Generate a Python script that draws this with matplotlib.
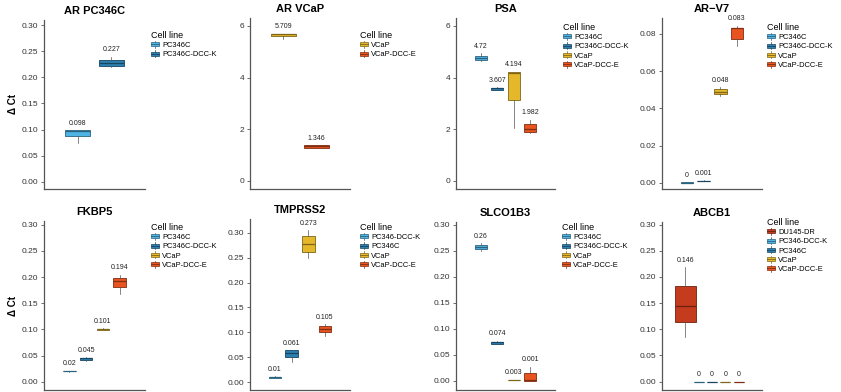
import matplotlib
matplotlib.use('Agg')
matplotlib.rcParams.update({
	"font.family": ["Liberation Sans", "DejaVu Sans"],
	"font.size": 6.0,
	"axes.linewidth": 0.9,
})
from matplotlib import pyplot as plt
from matplotlib.legend_handler import HandlerBase
from matplotlib.lines import Line2D
from matplotlib.patches import Patch, Rectangle
import numpy

# --- data: (whisker low, q1, median, q3, whisker high) ---
ar_pc346c_lines = ["PC346C", "PC346C-DCC-K"]
ar_pc346c_box = [(0.075, 0.087, 0.097, 0.099, 0.099),
                 (0.219, 0.222, 0.228, 0.234, 0.240)]
ar_pc346c_text = ["0.098", "0.227"]

ar_vcap_lines = ["VCaP", "VCaP-DCC-E"]
ar_vcap_box = [(5.48, 5.59, 5.69, 5.70, 5.70),
               (1.26, 1.29, 1.34, 1.39, 1.39)]
ar_vcap_text = ["5.709", "1.346"]

psa_lines = ["PC346C", "PC346C-DCC-K", "VCaP", "VCaP-DCC-E"]
psa_box = [(4.64, 4.66, 4.74, 4.83, 4.93),
           (3.50, 3.52, 3.58, 3.61, 3.62),
           (2.06, 3.13, 4.19, 4.22, 4.22),
           (1.84, 1.88, 2.02, 2.20, 2.36)]
psa_text = ["4.72", "3.607", "4.194", "1.982"]

arv7_lines = ["PC346C", "PC346C-DCC-K", "VCaP", "VCaP-DCC-E"]
arv7_box = [(0.0, 0.0, 0.0, 0.0002, 0.0002),
            (0.0008, 0.0009, 0.0010, 0.0011, 0.0012),
            (0.0468, 0.0475, 0.0488, 0.0502, 0.0513),
            (0.0734, 0.0775, 0.0830, 0.0834, 0.0845)]
arv7_text = ["0", "0.001", "0.048", "0.083"]

fkbp5_lines = ["PC346C", "PC346C-DCC-K", "VCaP", "VCaP-DCC-E"]
fkbp5_box = [(0.019, 0.0195, 0.020, 0.0205, 0.021),
             (0.039, 0.0414, 0.045, 0.0459, 0.047),
             (0.099, 0.0995, 0.101, 0.1015, 0.102),
             (0.167, 0.180, 0.193, 0.1975, 0.204)]
fkbp5_text = ["0.02", "0.045", "0.101", "0.194"]

tmprss2_lines = ["PC346-DCC-K", "PC346C", "VCaP", "VCaP-DCC-E"]
tmprss2_box = [(0.009, 0.0095, 0.0105, 0.011, 0.012),
               (0.041, 0.051, 0.058, 0.064, 0.064),
               (0.2485, 0.261, 0.2766, 0.294, 0.305),
               (0.0935, 0.1015, 0.1075, 0.1122, 0.116)]
tmprss2_text = ["0.01", "0.061", "0.273", "0.105"]

slco1b3_lines = ["PC346C", "PC346C-DCC-K", "VCaP", "VCaP-DCC-E"]
slco1b3_box = [(0.250, 0.2534, 0.257, 0.261, 0.264),
               (0.071, 0.0717, 0.074, 0.0755, 0.077),
               (0.0015, 0.0018, 0.002, 0.0022, 0.0025),
               (0.0, 0.0, 0.001, 0.016, 0.0275)]
slco1b3_text = ["0.26", "0.074", "0.003", "0.001"]

abcb1_lines = ["DU145-DR", "PC346-DCC-K", "PC346C", "VCaP", "VCaP-DCC-E"]
abcb1_box = [(0.0854, 0.1146, 0.1452, 0.1828, 0.2185),
             (0.0, 0.0, 0.0, 0.0, 0.0),
             (0.0, 0.0, 0.0, 0.0, 0.0),
             (0.0, 0.0, 0.0, 0.0, 0.0),
             (0.0, 0.0, 0.0, 0.0, 0.0)]
abcb1_text = ["0.146", "0", "0", "0", "0"]

LIGHT = "#4fb3e3"
DARK = "#2c7fae"
GOLD = "#e5b72b"
ORANGE = "#e9531f"
RED = "#c43b1d"

W, H = 841., 392.
fig = plt.figure(figsize=(W / 100., H / 100.), dpi=100)


def darker(c, f=0.55):
	rgb = numpy.array(matplotlib.colors.to_rgb(c))
	return tuple(rgb * f)


class BoxKey(HandlerBase):
	def create_artists(self, legend, orig, xd, yd, w, h, fontsize, trans):
		fc = orig.get_facecolor()
		ec = orig.get_edgecolor()
		cx = xd + w / 2.
		whisk = Line2D([cx, cx], [yd - 0.15 * h, yd + 1.15 * h], color=ec, lw=0.5, transform=trans)
		rect = Rectangle((xd, yd + 0.15 * h), w, 0.7 * h, facecolor=fc, edgecolor=ec, lw=0.5, transform=trans)
		med = Line2D([xd, xd + w], [yd + h / 2.] * 2, color=ec, lw=0.6, transform=trans)
		return [whisk, rect, med]


def panel(rect, title, lines, boxes, texts, colors, ylim, yticks, fmt, leg_xy, ylabel=False, widen=None):
	l, t, r, b = rect
	ax = fig.add_axes([l / W, 1 - b / H, (r - l) / W, (b - t) / H])
	n = len(lines)
	step = 0.8 / n
	pos = [1 + (i - (n - 1) / 2.) * step for i in range(n)]
	wid = [0.75 * step] * n
	if widen is not None:
		wid[widen] = 1.55 * step
	stats = []
	for name, (lo, q1, md, q3, hi) in zip(lines, boxes):
		stats.append(dict(label=name, whislo=lo, q1=q1, med=md, q3=q3, whishi=hi, fliers=[]))
	art = ax.bxp(stats, positions=pos, widths=wid, patch_artist=True, showcaps=False,
	             manage_ticks=False)
	for i, c in enumerate(colors):
		ec = darker(c)
		art['boxes'][i].set(facecolor=c, edgecolor=ec, linewidth=0.6)
		art['medians'][i].set(color=ec, linewidth=0.9)
		art['whiskers'][2 * i].set(color='#555555', linewidth=0.5)
		art['whiskers'][2 * i + 1].set(color='#555555', linewidth=0.5)
	for p, s, txt in zip(pos, boxes, texts):
		ax.annotate(txt, (p, s[4]), xytext=(0, 2.5), textcoords='offset points',
		            ha='center', va='bottom', fontsize=5, color='#222222')
	ax.set_xlim(0.4, 1.6)
	ax.set_ylim(*ylim)
	ax.set_yticks(yticks)
	ax.set_yticklabels([fmt % v for v in yticks])
	ax.set_xticks([])
	for s in ('top', 'right'):
		ax.spines[s].set_visible(False)
	for s in ('left', 'bottom'):
		ax.spines[s].set_color('#555555')
	ax.tick_params(axis='y', length=2.5, width=0.6, color='#555555', labelsize=6,
	               labelcolor='#333333', pad=1.5)
	ax.set_title(title, fontsize=8, fontweight='bold', pad=4)
	if ylabel:
		ax.set_ylabel('\u0394 Ct', fontsize=7, fontweight='bold', labelpad=3)
	handles = [Patch(facecolor=c, edgecolor=darker(c), label=nm) for nm, c in zip(lines, colors)]
	ax.legend(handles=handles, title='Cell line', loc='upper left',
	          bbox_to_anchor=(leg_xy[0] / W, 1 - leg_xy[1] / H), bbox_transform=fig.transFigure,
	          frameon=False, fontsize=5.4, title_fontsize=6.5, alignment='left',
	          handler_map={Patch: BoxKey()}, handlelength=1.0, handleheight=0.75,
	          labelspacing=0.25, handletextpad=0.5, borderpad=0, borderaxespad=0)
	return ax


t30 = [0.0, 0.05, 0.10, 0.15, 0.20, 0.25, 0.30]
t6 = [0, 2, 4, 6]
t08 = [0.0, 0.02, 0.04, 0.06, 0.08]

panel((44, 20, 145, 189), "AR PC346C", ar_pc346c_lines, ar_pc346c_box, ar_pc346c_text,
      [LIGHT, DARK], (-0.014, 0.310), t30, "%.2f", (151, 31), ylabel=True)
panel((250, 18, 350, 189), "AR VCaP", ar_vcap_lines, ar_vcap_box, ar_vcap_text,
      [GOLD, ORANGE], (-0.31, 6.30), t6, "%d", (360, 31))
panel((456, 18, 555, 189), "PSA", psa_lines, psa_box, psa_text,
      [LIGHT, DARK, GOLD, ORANGE], (-0.31, 6.30), t6, "%d", (563, 23))
panel((662, 18, 762, 189), "AR\u2212V7", arv7_lines, arv7_box, arv7_text,
      [LIGHT, DARK, GOLD, ORANGE], (-0.0034, 0.0886), t08, "%.2f", (767, 23))
panel((44, 221, 145, 390), "FKBP5", fkbp5_lines, fkbp5_box, fkbp5_text,
      [LIGHT, DARK, GOLD, ORANGE], (-0.0159, 0.307), t30, "%.2f", (151, 223), ylabel=True)
panel((250, 219, 350, 390), "TMPRSS2", tmprss2_lines, tmprss2_box, tmprss2_text,
      [LIGHT, DARK, GOLD, ORANGE], (-0.0154, 0.3274), t30, "%.2f", (360, 223))
panel((456, 222, 555, 390), "SLCO1B3", slco1b3_lines, slco1b3_box, slco1b3_text,
      [LIGHT, DARK, GOLD, ORANGE], (-0.0173, 0.3052), t30, "%.2f", (562, 223))
panel((662, 222, 762, 390), "ABCB1", abcb1_lines, abcb1_box, abcb1_text,
      [RED, LIGHT, DARK, GOLD, ORANGE], (-0.0159, 0.305), t30, "%.2f", (767, 218), widen=0)

fig.savefig('out.png', dpi=100, facecolor='white')
